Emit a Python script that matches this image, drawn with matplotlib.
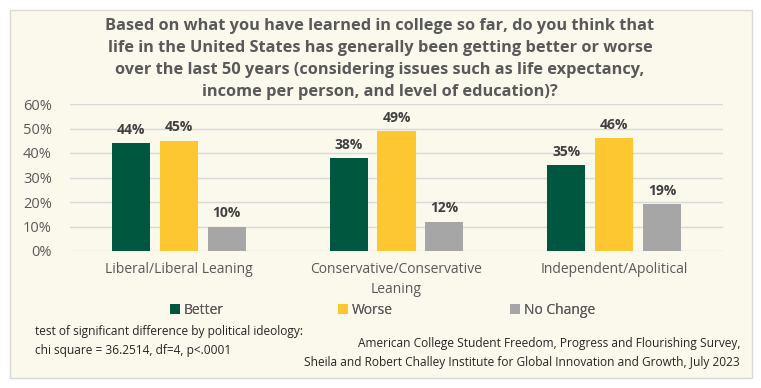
import matplotlib.pyplot as plt
import numpy as np
from matplotlib.patches import Rectangle

plt.rcParams['font.family'] = ['Open Sans', 'DejaVu Sans']

# data
groups = ['Liberal/Liberal Leaning', 'Conservative/Conservative\nLeaning', 'Independent/Apolitical']
better = [44, 38, 35]
worse = [45, 49, 46]
nochange = [10, 12, 19]
series_names = ['Better', 'Worse', 'No Change']
colors = ['#00573F', '#FDC731', '#A6A6A6']
yticks = [0, 10, 20, 30, 40, 50, 60]

title = ('Based on what you have learned in college so far, do you think that\n'
         'life in the United States has generally been getting better or worse\n'
         'over the last 50 years (considering issues such as life expectancy,\n'
         'income per person, and level of education)?')

fig = plt.figure(figsize=(7.61, 3.88), dpi=100)
fig.patch.set_facecolor('white')

# cream panel behind everything
panel = Rectangle((10/761, 1-378/388), 742/761, 368/388, transform=fig.transFigure,
                  facecolor='#FBF8EC', edgecolor='#D9D9D9', lw=1, zorder=-10)
fig.patches.append(panel)

ax = fig.add_axes([70/761, 1-251/388, 653/761, 147/388])
ax.set_facecolor('none')
ax.set_zorder(1)

x = np.arange(len(groups))
w = 0.175
step = 0.22
bars = []
for k, (vals, name, c) in enumerate(zip([better, worse, nochange], series_names, colors)):
    pos = x + (k-1)*step
    b = ax.bar(pos, vals, width=w, color=c, label=name, zorder=3)
    bars.append(b)
    for p, v in zip(pos, vals):
        ax.text(p, v+2.6, f'{v}%', ha='center', va='bottom', fontsize=10,
                fontweight='bold', color='#404040')

ax.set_xlim(-0.5, 2.5)
ax.set_ylim(0, 60)
ax.set_yticks(yticks)
ax.set_yticklabels([f'{t}%' for t in yticks], fontsize=10.5, color='#595959')
ax.set_xticks(x)
ax.set_xticklabels(groups, fontsize=10, color='#595959', linespacing=1.45)
ax.tick_params(length=0, pad=8)
ax.tick_params(axis='y', pad=13)
ax.grid(axis='y', color='#D9D9D9', lw=1, zorder=0)
for s in ax.spines.values():
    s.set_visible(False)

fig.text(380/761, 1-59/388, title, ha='center', va='center', fontsize=11.8,
         fontweight='bold', color='#595959', linespacing=1.52)

# legend entries spaced evenly, like the original
leg_x = [170, 338, 510]
for b, name, lx in zip(bars, series_names, leg_x):
    lg = fig.legend([b], [name], loc='center left', bbox_to_anchor=(lx/761, 1-310/388),
                    frameon=False, fontsize=10, handlelength=0.7, handleheight=0.7,
                    handletextpad=0.3, borderpad=0, borderaxespad=0, labelcolor='#595959')
    fig.add_artist(lg)

fig.text(35/761, 1-341/388,
         'test of significant difference by political ideology:\nchi square = 36.2514, df=4, p<.0001',
         ha='left', va='center', fontsize=8.6, color='#262626', linespacing=1.55)
fig.text(740/761, 1-353/388,
         'American College Student Freedom, Progress and Flourishing Survey,\n'
         'Sheila and Robert Challey Institute for Global Innovation and Growth, July 2023',
         ha='right', va='center', fontsize=8.6, color='#262626', linespacing=1.55)

fig.savefig('out.png', dpi=100, facecolor='white')
